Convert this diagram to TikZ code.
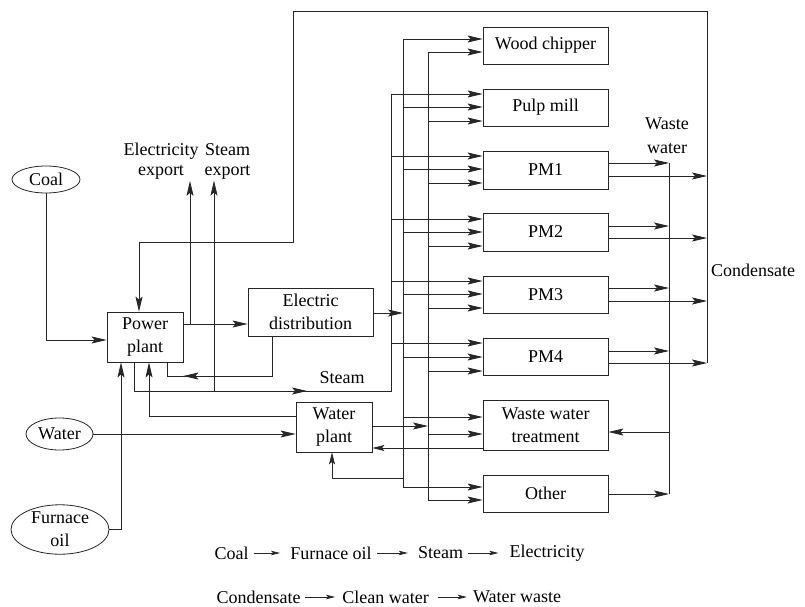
\documentclass[tikz,border=0pt]{standalone}
\usepackage{fontspec}
\setmainfont{Liberation Serif}
\usetikzlibrary{arrows.meta,shapes.geometric}
\begin{document}
\begin{tikzpicture}[x=1pt,y=-1pt,
  font=\fontsize{18}{23}\selectfont,
  ln/.style={draw=black!85, line width=0.8pt},
  box/.style={ln, rectangle, minimum width=125pt, inner sep=0pt, align=center},
  ell/.style={ln, ellipse, inner sep=0pt, align=center},
  arr/.style={ln, -{Stealth[length=15pt,width=7pt,inset=3pt]}},
  arrs/.style={ln, -{Stealth[length=12pt,width=6pt,inset=2.5pt]}},
  larr/.style={ln, -{Stealth[length=9pt,width=4.5pt,inset=2pt]}},
  lbl/.style={inner sep=0pt, align=center}
]
\fill[white] (0,0) rectangle (805,607);
\useasboundingbox (0,0) rectangle (805,607);

% process boxes
\node[box, minimum height=37pt] (wc) at (545.5,45.5) {Wood chipper};
\node[box, minimum height=37pt] (pulp) at (545.5,107.5) {Pulp mill};
\node[box, minimum height=38pt] (pm1) at (545.5,170) {PM1};
\node[box, minimum height=38pt] (pm2) at (545.5,232) {PM2};
\node[box, minimum height=37pt] (pm3) at (545.5,294.5) {PM3};
\node[box, minimum height=37pt] (pm4) at (545.5,356.5) {PM4};
\node[box, minimum height=50pt] (wwt) at (545.5,425) {Waste water\\treatment};
\node[box, minimum height=37pt] (oth) at (545.5,493.5) {Other};
\node[box, minimum width=76pt, minimum height=50pt] (pp) at (145,337) {Power\\plant};
\node[box, minimum height=48pt] (ed) at (310.5,312) {Electric\\distribution};
\node[box, minimum width=76pt, minimum height=50pt] (wp) at (334,427) {Water\\plant};

% sources
\node[ell, minimum width=68pt, minimum height=27pt] (coal) at (46,179.5) {Coal};
\node[ell, minimum width=67pt, minimum height=32pt] (water) at (59.5,434) {Water};
\node[ell, minimum width=98pt, minimum height=47pt] (furn) at (60,529.5) {Furnace\\oil};

% labels
\node[lbl, inner sep=1.5pt, font=\fontsize{18}{20}\selectfont] (eexp) at (161,161) {Electricity\\export};
\node[lbl, inner sep=1.5pt, font=\fontsize{18}{20}\selectfont] (sexp) at (227.5,161) {Steam\\export};
\node[lbl] (steaml) at (342,378) {Steam};
\node[lbl, font=\fontsize{18}{24}\selectfont] (wwl) at (667,136) {Waste\\water};
\node[lbl] (cond) at (753,270) {Condensate};

% inputs to power plant
\draw[arr] (coal.south) |- (pp.west |- 0,340);
\draw[arr] (furn.east) -| (pp.south -| 121,0);
\draw[arr] (wp.west |- 0,416) -| (pp.south -| 149,0);
\draw[arr] (water.east) -- (wp.west |- water.east);

% power plant to electric distribution and electricity export
\draw[arr] (pp.east |- 0,324) -- (ed.west |- 0,324);
\draw[arr] (190,324) -- (eexp.south -| 190,0);

% steam
\draw[arr] (pp.south -| 134,0) |- (307,391);
\draw[ln] (300,391) -| (391,94);
\draw[arr] (214,391) -- (sexp.south -| 214,0);

% electricity back to power plant
\draw[ln] (ed.south -| 272,0) |- (167,376) -- (pp.south -| 167,0);
\draw[arr] (200,376) -- (pp.east |- 0,376);

% electricity to bus
\draw[arr] (ed.east |- 0,313) -- (403,313);

% buses
\draw[arr] (403,487) |- (wc.west |- 0,39);
\draw[arr] (428,500) |- (wc.west |- 0,52);
\foreach \b/\y in {pulp/94, pm1/156, pm2/219, pm3/281, pm4/343}
  \draw[arr] (391,\y) -- (\b.west |- 0,\y);
\foreach \b/\y in {pulp/107, pm1/169, pm2/232, pm3/294, pm4/357, wwt/417, oth/487}
  \draw[arr] (403,\y) -- (\b.west |- 0,\y);
\foreach \b/\y in {pulp/121, pm1/183, pm2/246, pm3/308, pm4/371, wwt/434, oth/500}
  \draw[arr] (428,\y) -- (\b.west |- 0,\y);

% water plant
\draw[arr] (wp.east |- 0,426) -- (428,426);
\draw[arrs] (wwt.west |- 0,448) -- (wp.east |- 0,448);
\draw[arrs] (403,478) -| (wp.south -| 332,0);

% outputs of paper machines
\foreach \b/\yw/\yc in {pm1/163/176, pm2/226/238, pm3/288/301, pm4/351/363} {
  \draw[arr] (\b.east |- 0,\yw) -- (669,\yw);
  \draw[arr] (\b.east |- 0,\yc) -- (707,\yc);
}
\draw[ln] (669,163) -- (669,494);
\draw[arr] (oth.east |- 0,494) -- (669,494);
\draw[arr] (669,432) -- (wwt.east |- 0,432);

% condensate return
\draw[arr] (707,363) |- (293,11) |- (139,242) -- (pp.north -| 139,0);

% legend
\node[lbl] (lg1) at (231.5,553) {Coal};
\node[lbl] (lg2) at (331,553) {Furnace oil};
\node[lbl] (lg3) at (440.5,553) {Steam};
\node[lbl] (lg4) at (547,553) {Electricity};
\draw[larr, shorten <=5pt, shorten >=10pt] (lg1) -- (lg2);
\draw[larr, shorten <=5pt, shorten >=10pt] (lg2) -- (lg3);
\draw[larr, shorten <=5pt, shorten >=11pt] (lg3) -- (lg4);
\node[lbl] (lg5) at (258.5,597) {Condensate};
\node[lbl] (lg6) at (385.5,597) {Clean water};
\node[lbl] (lg7) at (517,597) {Water waste};
\draw[larr, shorten <=4pt, shorten >=7pt] (lg5) -- (lg6);
\draw[larr, shorten <=9pt, shorten >=6pt] (lg6) -- (lg7);
\end{tikzpicture}
\end{document}
